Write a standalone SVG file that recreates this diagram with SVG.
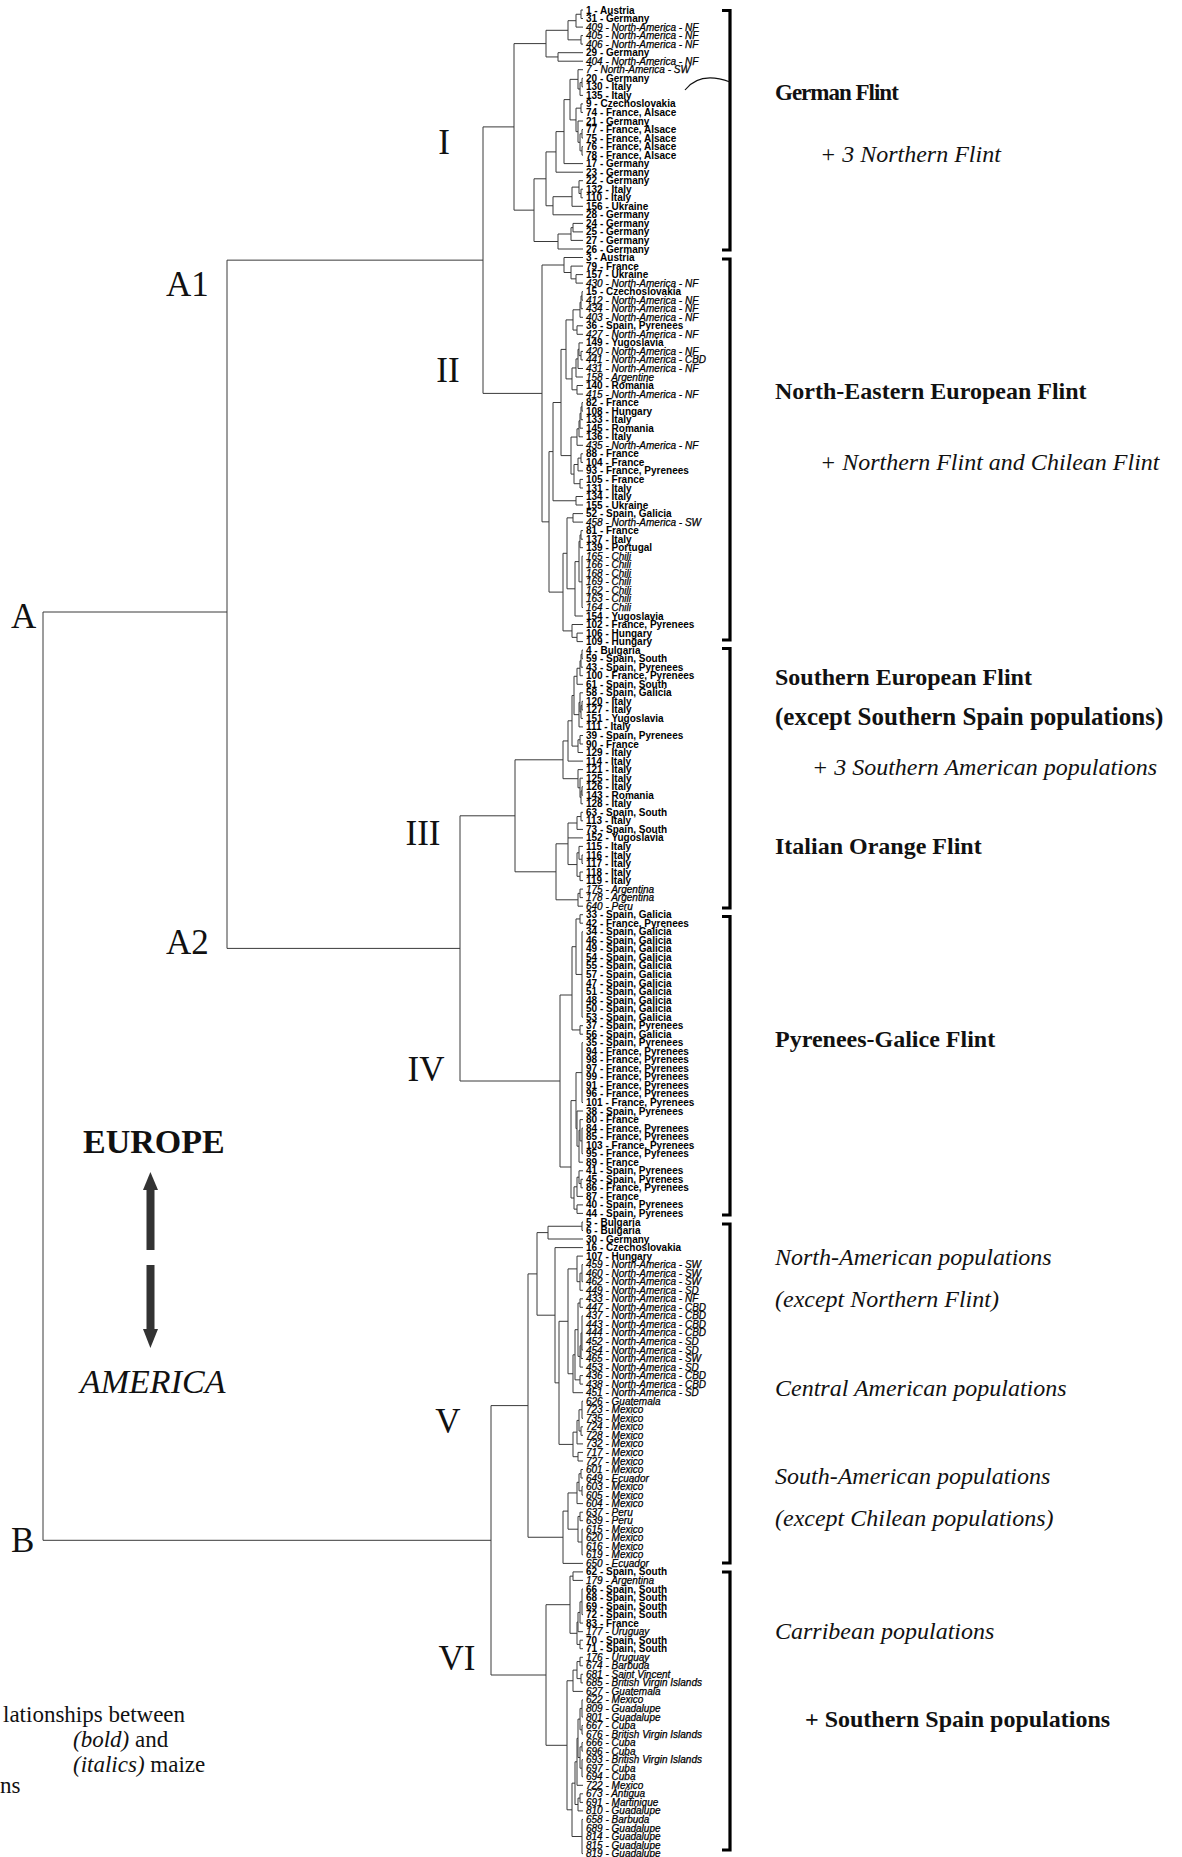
<svg xmlns="http://www.w3.org/2000/svg" width="1182" height="1857" viewBox="0 0 1182 1857">
<style>
.t{fill:none;stroke:#3a3a3a;stroke-width:1}
.lb{font-family:"Liberation Sans",Arial,sans-serif;font-weight:bold;font-size:10px;fill:#000}
.li{font-family:"Liberation Sans",Arial,sans-serif;font-style:italic;font-size:10px;fill:#000;stroke:#000;stroke-width:0.25}
.big{font-family:"Liberation Serif","Times New Roman",serif;font-size:35px;fill:#111}
.rb{font-family:"Liberation Serif","Times New Roman",serif;font-weight:bold;font-size:24px;fill:#111}
.ri{font-family:"Liberation Serif","Times New Roman",serif;font-style:italic;font-size:24px;fill:#111}
.cap{font-family:"Liberation Serif","Times New Roman",serif;font-size:23px;fill:#111}
.br{fill:none;stroke:#000;stroke-width:3.2}
</style>
<rect width="1182" height="1857" fill="#fff"/>
<g id="connectors">
<g id="tree" class="t">
<path d="M583 10 H581 V18.5 H583 M581 14.25 H576 V27.1 H583 M583 35.6 H581 V44.1 H583 M576 20.7 H568 V39.85 H581 M583 52.7 H558 V61.2 H583 M568 30.3 H546 V56.95 H558"/>
<path d="M583 78.3 H582 V86.8 H583 M582 82.55 H580 V95.4 H583 M583 69.7 H578 V89 H580 M583 103.9 H581 V112.4 H583 M583 129.5 H582 V138 H583 M583 146.6 H582 V155.1 H583 M582 133.75 H580 V150.85 H582 M583 121 H578 V142.3 H580 M581 108.15 H576 V131.65 H578 M578 79.35 H570 V119.9 H576 M570 99.6 H564 V163.6 H583 M564 131.6 H556 V172.2 H583"/>
<path d="M583 189.2 H581 V197.8 H583 M583 180.7 H579 V193.5 H581 M579 187.1 H572 V206.3 H583 M572 196.7 H553 V214.8 H583 M583 223.4 H573 V231.9 H583 M573 227.65 H571 V240.4 H583 M571 234 H558 V249 H583 M556 151.9 H546 V205.75 H553 M546 178.8 H534 V241.5 H558 M546 43.6 H514 V210.15 H534"/>
<path d="M583 274.6 H576 V283.1 H583 M583 266.1 H571 V278.85 H576 M583 257.5 H564 V272.5 H571 M583 291.7 H582 V300.2 H583 M582 295.95 H581 V308.7 H583 M581 302.3 H580 V317.3 H583 M583 325.8 H577 V334.3 H583 M580 309.8 H573 V330.05 H577 M583 351.4 H581 V359.9 H583 M583 342.9 H579 V355.65 H581 M579 349.3 H578 V368.5 H583 M578 358.9 H576 V377 H583 M583 385.5 H577 V394.1 H583 M576 367.95 H572 V389.8 H577 M573 319.9 H566 V378.9 H572"/>
<path d="M583 402.6 H582 V411.1 H583 M582 406.85 H581 V419.7 H583 M581 413.3 H580 V428.2 H583 M580 420.75 H579 V436.8 H583 M579 428.8 H577 V445.3 H583 M583 453.8 H581 V462.4 H583 M581 458.1 H578 V470.9 H583 M583 479.4 H580 V488 H583 M578 464.5 H574 V483.7 H580 M577 437.05 H571 V474.1 H574 M566 349.4 H561 V455.6 H571 M583 496.5 H576 V505 H583 M561 402.5 H553 V500.75 H576"/>
<path d="M583 513.6 H573 V522.1 H583 M583 530.6 H581 V539.2 H583 M581 534.9 H580 V547.7 H583 M583 556.2 H582 V607.5 H583 M580 541.3 H579 V581.85 H582 M579 561.6 H575 V616 H583 M573 517.85 H567 V588.8 H575 M583 633.1 H577 V641.6 H583 M583 624.5 H572 V637.35 H577 M567 553.3 H563 V630.9 H572 M553 451.6 H549 V592.1 H563 M564 265 H542 V521.85 H549 M514 126.9 H483 V393.4 H542"/>
<path d="M583 650.1 H582 V658.7 H583 M582 654.4 H581 V667.2 H583 M581 660.8 H580 V675.7 H583 M580 668.25 H577 V684.3 H583 M583 701.3 H582 V709.9 H583 M582 705.6 H581 V718.4 H583 M583 692.8 H580 V712 H581 M580 702.4 H579 V726.9 H583 M583 735.5 H580 V744 H583 M580 739.75 H578 V752.5 H583 M577 676.3 H574 V714.65 H579 M574 695.5 H572 V746.1 H578 M572 720.8 H568 V761.1 H583 M583 786.7 H582 V795.2 H583 M582 790.95 H581 V803.8 H583 M583 778.2 H580 V797.4 H581 M583 769.6 H578 V787.8 H580 M568 740.95 H563 V778.7 H578"/>
<path d="M583 812.3 H581 V820.8 H583 M581 816.55 H577 V829.4 H583 M583 855 H582 V863.5 H583 M583 846.4 H579 V859.25 H582 M583 872 H580 V880.6 H583 M579 852.8 H577 V876.3 H580 M577 823 H568 V864.55 H577 M568 837.9 H583 M583 889.1 H580 V897.6 H583 M580 893.35 H578 V906.2 H583 M568 843.8 H556 V899.8 H578 M563 759.8 H515 V871.8 H556"/>
<path d="M583 914.7 H580 V923.2 H583 M583 931.8 H582 V1017.1 H583 M580 918.95 H576 V974.45 H582 M583 1025.7 H580 V1034.2 H583 M576 946.7 H572 V1029.95 H580 M583 1042.7 H582 V1102.5 H583 M583 1128.1 H582 V1153.7 H583 M583 1119.6 H580 V1140.9 H582 M580 1130.25 H579 V1162.2 H583 M583 1111 H577 V1146.2 H579 M582 1072.6 H576 V1128.6 H577 M583 1179.3 H581 V1187.8 H583 M583 1170.8 H579 V1183.55 H581 M579 1177.2 H577 V1196.4 H583 M583 1204.9 H577 V1213.4 H583 M577 1186.8 H574 V1209.15 H577 M576 1100.6 H571 V1198 H574 M572 995 H560 V1167 H571 M515 815.8 H460 V1081 H560"/>
<path d="M483 260.15 H227 V948.4 H460 M227 612 H43 V1540.3 H491"/>
<path d="M583 1222 H582 V1230.5 H583 M582 1226.25 H548 V1239 H583 M583 1264.6 H582 V1281.7 H583 M582 1273.15 H580 V1290.3 H583 M583 1256.1 H577 V1281.7 H580 M583 1298.8 H580 V1307.3 H583 M583 1315.9 H582 V1350 H583 M582 1332.95 H581 V1358.5 H583 M581 1345.7 H580 V1367.1 H583 M580 1303.05 H578 V1356.4 H580 M583 1375.6 H580 V1384.1 H583 M578 1329.7 H575 V1379.85 H580 M575 1354.8 H573 V1392.7 H583 M577 1268.9 H568 V1373.75 H573"/>
<path d="M583 1401.2 H582 V1418.3 H583 M583 1426.8 H581 V1435.3 H583 M582 1409.75 H579 V1431.05 H581 M579 1420.4 H577 V1443.9 H583 M583 1452.4 H578 V1461 H583 M577 1432.15 H573 V1456.7 H578 M568 1321.3 H559 V1444.4 H573 M583 1247.6 H555 V1382.85 H559 M548 1232.6 H537 V1315.2 H555"/>
<path d="M583 1469.5 H581 V1478 H583 M583 1486.6 H582 V1495.1 H583 M581 1473.75 H579 V1490.85 H582 M579 1482.3 H577 V1503.6 H583 M583 1512.2 H580 V1520.7 H583 M583 1529.2 H582 V1554.8 H583 M580 1516.45 H578 V1542 H582 M577 1492.95 H568 V1529.2 H578 M568 1511.1 H563 V1563.4 H583 M537 1273.9 H528 V1537.25 H563"/>
<path d="M583 1571.9 H573 V1580.4 H583 M583 1589 H582 V1614.6 H583 M582 1601.8 H580 V1623.1 H583 M580 1612.45 H578 V1631.7 H583 M583 1640.2 H580 V1648.7 H583 M578 1622.1 H577 V1644.45 H580 M573 1576.15 H570 V1633.3 H577"/>
<path d="M583 1657.3 H580 V1665.8 H583 M583 1674.3 H581 V1682.9 H583 M580 1661.55 H577 V1678.6 H581 M577 1670.1 H573 V1691.4 H583 M583 1699.9 H582 V1717 H583 M583 1725.5 H582 V1734.1 H583 M582 1708.45 H580 V1729.8 H582 M583 1742.6 H582 V1751.1 H583 M583 1759.7 H582 V1776.7 H583 M582 1746.85 H580 V1768.2 H582 M580 1719.1 H578 V1757.5 H580 M578 1738.3 H577 V1785.3 H583 M583 1793.8 H580 V1802.4 H583 M580 1798.1 H578 V1810.9 H583 M577 1761.8 H575 V1804.5 H578 M583 1819.4 H582 V1853.6 H583 M575 1783.15 H572 V1836.5 H582 M573 1680.75 H567 V1809.8 H572 M570 1604.7 H546 V1745.3 H567 M528 1405.6 H491 V1675 H546"/>
</g>
<g id="brackets" class="br">
<path d="M722 10.5 H730 V250 H722"/>
<path d="M722 259 H730 V640 H722"/>
<path d="M722 648.5 H730 V908 H722"/>
<path d="M722 916.5 H730 V1215 H722"/>
<path d="M722 1224 H730 V1563 H722"/>
<path d="M722 1572 H730 V1850 H722"/>
</g>
<path id="arc" d="M685 90 Q700 71 730 82" fill="none" stroke="#111" stroke-width="1.2"/>
</g>
<g id="arrow" fill="#333">
<polygon points="150.4,1172 158,1190 143,1190"/>
<rect x="146.5" y="1189" width="8" height="61"/>
<rect x="146.5" y="1265" width="8" height="65"/>
<polygon points="150.4,1348 158,1329 143,1329"/>
</g>
<g id="leaves-I">
<text class="lb" x="586" y="13.5">1 - Austria</text>
<text class="lb" x="586" y="22">31 - Germany</text>
<text class="li" x="586" y="30.6">409 - North-America - NF</text>
<text class="li" x="586" y="39.1">405 - North-America - NF</text>
<text class="li" x="586" y="47.6">406 - North-America - NF</text>
<text class="lb" x="586" y="56.2">29 - Germany</text>
<text class="li" x="586" y="64.7">404 - North-America - NF</text>
<text class="li" x="586" y="73.2">7 - North-America - SW</text>
<text class="lb" x="586" y="81.8">20 - Germany</text>
<text class="lb" x="586" y="90.3">130 - Italy</text>
<text class="lb" x="586" y="98.9">135 - Italy</text>
<text class="lb" x="586" y="107.4">9 - Czechoslovakia</text>
<text class="lb" x="586" y="115.9">74 - France, Alsace</text>
<text class="lb" x="586" y="124.5">21 - Germany</text>
<text class="lb" x="586" y="133">77 - France, Alsace</text>
<text class="lb" x="586" y="141.5">75 - France, Alsace</text>
<text class="lb" x="586" y="150.1">76 - France, Alsace</text>
<text class="lb" x="586" y="158.6">78 - France, Alsace</text>
<text class="lb" x="586" y="167.1">17 - Germany</text>
<text class="lb" x="586" y="175.7">23 - Germany</text>
<text class="lb" x="586" y="184.2">22 - Germany</text>
<text class="lb" x="586" y="192.7">132 - Italy</text>
<text class="lb" x="586" y="201.3">110 - Italy</text>
<text class="lb" x="586" y="209.8">156 - Ukraine</text>
<text class="lb" x="586" y="218.3">28 - Germany</text>
<text class="lb" x="586" y="226.9">24 - Germany</text>
<text class="lb" x="586" y="235.4">25 - Germany</text>
<text class="lb" x="586" y="243.9">27 - Germany</text>
<text class="lb" x="586" y="252.5">26 - Germany</text>
</g>
<g id="leaves-II">
<text class="lb" x="586" y="261">3 - Austria</text>
<text class="lb" x="586" y="269.6">79 - France</text>
<text class="lb" x="586" y="278.1">157 - Ukraine</text>
<text class="li" x="586" y="286.6">430 - North-America - NF</text>
<text class="lb" x="586" y="295.2">15 - Czechoslovakia</text>
<text class="li" x="586" y="303.7">412 - North-America - NF</text>
<text class="li" x="586" y="312.2">434 - North-America - NF</text>
<text class="li" x="586" y="320.8">403 - North-America - NF</text>
<text class="lb" x="586" y="329.3">36 - Spain, Pyrenees</text>
<text class="li" x="586" y="337.8">427 - North-America - NF</text>
<text class="lb" x="586" y="346.4">149 - Yugoslavia</text>
<text class="li" x="586" y="354.9">420 - North-America - NF</text>
<text class="li" x="586" y="363.4">441 - North-America - CBD</text>
<text class="li" x="586" y="372">431 - North-America - NF</text>
<text class="li" x="586" y="380.5">158 - Argentine</text>
<text class="lb" x="586" y="389">140 - Romania</text>
<text class="li" x="586" y="397.6">415 - North-America - NF</text>
<text class="lb" x="586" y="406.1">82 - France</text>
<text class="lb" x="586" y="414.6">108 - Hungary</text>
<text class="lb" x="586" y="423.2">133 - Italy</text>
<text class="lb" x="586" y="431.7">145 - Romania</text>
<text class="lb" x="586" y="440.3">136 - Italy</text>
<text class="li" x="586" y="448.8">435 - North-America - NF</text>
<text class="lb" x="586" y="457.3">88 - France</text>
<text class="lb" x="586" y="465.9">104 - France</text>
<text class="lb" x="586" y="474.4">93 - France, Pyrenees</text>
<text class="lb" x="586" y="482.9">105 - France</text>
<text class="lb" x="586" y="491.5">131 - Italy</text>
<text class="lb" x="586" y="500">134 - Italy</text>
<text class="lb" x="586" y="508.5">155 - Ukraine</text>
<text class="lb" x="586" y="517.1">52 - Spain, Galicia</text>
<text class="li" x="586" y="525.6">458 - North-America - SW</text>
<text class="lb" x="586" y="534.1">81 - France</text>
<text class="lb" x="586" y="542.7">137 - Italy</text>
<text class="lb" x="586" y="551.2">139 - Portugal</text>
<text class="li" x="586" y="559.7">165 - Chili</text>
<text class="li" x="586" y="568.3">166 - Chili</text>
<text class="li" x="586" y="576.8">168 - Chili</text>
<text class="li" x="586" y="585.3">169 - Chili</text>
<text class="li" x="586" y="593.9">162 - Chili</text>
<text class="li" x="586" y="602.4">163 - Chili</text>
<text class="li" x="586" y="611">164 - Chili</text>
<text class="lb" x="586" y="619.5">154 - Yugoslavia</text>
<text class="lb" x="586" y="628">102 - France, Pyrenees</text>
<text class="lb" x="586" y="636.6">106 - Hungary</text>
<text class="lb" x="586" y="645.1">109 - Hungary</text>
</g>
<g id="leaves-III">
<text class="lb" x="586" y="653.6">4 - Bulgaria</text>
<text class="lb" x="586" y="662.2">59 - Spain, South</text>
<text class="lb" x="586" y="670.7">43 - Spain, Pyrenees</text>
<text class="lb" x="586" y="679.2">100 - France, Pyrenees</text>
<text class="lb" x="586" y="687.8">61 - Spain, South</text>
<text class="lb" x="586" y="696.3">58 - Spain, Galicia</text>
<text class="lb" x="586" y="704.8">120 - Italy</text>
<text class="lb" x="586" y="713.4">127 - Italy</text>
<text class="lb" x="586" y="721.9">151 - Yugoslavia</text>
<text class="lb" x="586" y="730.4">111 - Italy</text>
<text class="lb" x="586" y="739">39 - Spain, Pyrenees</text>
<text class="lb" x="586" y="747.5">90 - France</text>
<text class="lb" x="586" y="756">129 - Italy</text>
<text class="lb" x="586" y="764.6">114 - Italy</text>
<text class="lb" x="586" y="773.1">121 - Italy</text>
<text class="lb" x="586" y="781.7">125 - Italy</text>
<text class="lb" x="586" y="790.2">126 - Italy</text>
<text class="lb" x="586" y="798.7">143 - Romania</text>
<text class="lb" x="586" y="807.3">128 - Italy</text>
<text class="lb" x="586" y="815.8">63 - Spain, South</text>
<text class="lb" x="586" y="824.3">113 - Italy</text>
<text class="lb" x="586" y="832.9">73 - Spain, South</text>
<text class="lb" x="586" y="841.4">152 - Yugoslavia</text>
<text class="lb" x="586" y="849.9">115 - Italy</text>
<text class="lb" x="586" y="858.5">116 - Italy</text>
<text class="lb" x="586" y="867">117 - Italy</text>
<text class="lb" x="586" y="875.5">118 - Italy</text>
<text class="lb" x="586" y="884.1">119 - Italy</text>
<text class="li" x="586" y="892.6">175 - Argentina</text>
<text class="li" x="586" y="901.1">178 - Argentina</text>
<text class="li" x="586" y="909.7">640 - Peru</text>
</g>
<g id="leaves-IV">
<text class="lb" x="586" y="918.2">33 - Spain, Galicia</text>
<text class="lb" x="586" y="926.7">42 - France, Pyrenees</text>
<text class="lb" x="586" y="935.3">34 - Spain, Galicia</text>
<text class="lb" x="586" y="943.8">46 - Spain, Galicia</text>
<text class="lb" x="586" y="952.4">49 - Spain, Galicia</text>
<text class="lb" x="586" y="960.9">54 - Spain, Galicia</text>
<text class="lb" x="586" y="969.4">55 - Spain, Galicia</text>
<text class="lb" x="586" y="978">57 - Spain, Galicia</text>
<text class="lb" x="586" y="986.5">47 - Spain, Galicia</text>
<text class="lb" x="586" y="995">51 - Spain, Galicia</text>
<text class="lb" x="586" y="1003.6">48 - Spain, Galicia</text>
<text class="lb" x="586" y="1012.1">50 - Spain, Galicia</text>
<text class="lb" x="586" y="1020.6">53 - Spain, Galicia</text>
<text class="lb" x="586" y="1029.2">37 - Spain, Pyrenees</text>
<text class="lb" x="586" y="1037.7">56 - Spain, Galicia</text>
<text class="lb" x="586" y="1046.2">35 - Spain, Pyrenees</text>
<text class="lb" x="586" y="1054.8">94 - France, Pyrenees</text>
<text class="lb" x="586" y="1063.3">98 - France, Pyrenees</text>
<text class="lb" x="586" y="1071.8">97 - France, Pyrenees</text>
<text class="lb" x="586" y="1080.4">99 - France, Pyrenees</text>
<text class="lb" x="586" y="1088.9">91 - France, Pyrenees</text>
<text class="lb" x="586" y="1097.4">96 - France, Pyrenees</text>
<text class="lb" x="586" y="1106">101 - France, Pyrenees</text>
<text class="lb" x="586" y="1114.5">38 - Spain, Pyrenees</text>
<text class="lb" x="586" y="1123.1">80 - France</text>
<text class="lb" x="586" y="1131.6">84 - France, Pyrenees</text>
<text class="lb" x="586" y="1140.1">85 - France, Pyrenees</text>
<text class="lb" x="586" y="1148.7">103 - France, Pyrenees</text>
<text class="lb" x="586" y="1157.2">95 - France, Pyrenees</text>
<text class="lb" x="586" y="1165.7">89 - France</text>
<text class="lb" x="586" y="1174.3">41 - Spain, Pyrenees</text>
<text class="lb" x="586" y="1182.8">45 - Spain, Pyrenees</text>
<text class="lb" x="586" y="1191.3">86 - France, Pyrenees</text>
<text class="lb" x="586" y="1199.9">87 - France</text>
<text class="lb" x="586" y="1208.4">40 - Spain, Pyrenees</text>
<text class="lb" x="586" y="1216.9">44 - Spain, Pyrenees</text>
</g>
<g id="leaves-V">
<text class="lb" x="586" y="1225.5">5 - Bulgaria</text>
<text class="lb" x="586" y="1234">6 - Bulgaria</text>
<text class="lb" x="586" y="1242.5">30 - Germany</text>
<text class="lb" x="586" y="1251.1">16 - Czechoslovakia</text>
<text class="lb" x="586" y="1259.6">107 - Hungary</text>
<text class="li" x="586" y="1268.1">459 - North-America - SW</text>
<text class="li" x="586" y="1276.7">460 - North-America - SW</text>
<text class="li" x="586" y="1285.2">462 - North-America - SW</text>
<text class="li" x="586" y="1293.8">449 - North-America - SD</text>
<text class="li" x="586" y="1302.3">433 - North-America - NF</text>
<text class="li" x="586" y="1310.8">447 - North-America - CBD</text>
<text class="li" x="586" y="1319.4">437 - North-America - CBD</text>
<text class="li" x="586" y="1327.9">443 - North-America - CBD</text>
<text class="li" x="586" y="1336.4">444 - North-America - CBD</text>
<text class="li" x="586" y="1345">452 - North-America - SD</text>
<text class="li" x="586" y="1353.5">454 - North-America - SD</text>
<text class="li" x="586" y="1362">465 - North-America - SW</text>
<text class="li" x="586" y="1370.6">453 - North-America - SD</text>
<text class="li" x="586" y="1379.1">436 - North-America - CBD</text>
<text class="li" x="586" y="1387.6">438 - North-America - CBD</text>
<text class="li" x="586" y="1396.2">451 - North-America - SD</text>
<text class="li" x="586" y="1404.7">626 - Guatemala</text>
<text class="li" x="586" y="1413.2">723 - Mexico</text>
<text class="li" x="586" y="1421.8">735 - Mexico</text>
<text class="li" x="586" y="1430.3">724 - Mexico</text>
<text class="li" x="586" y="1438.8">728 - Mexico</text>
<text class="li" x="586" y="1447.4">732 - Mexico</text>
<text class="li" x="586" y="1455.9">717 - Mexico</text>
<text class="li" x="586" y="1464.5">727 - Mexico</text>
<text class="li" x="586" y="1473">601 - Mexico</text>
<text class="li" x="586" y="1481.5">649 - Ecuador</text>
<text class="li" x="586" y="1490.1">603 - Mexico</text>
<text class="li" x="586" y="1498.6">605 - Mexico</text>
<text class="li" x="586" y="1507.1">604 - Mexico</text>
<text class="li" x="586" y="1515.7">637 - Peru</text>
<text class="li" x="586" y="1524.2">639 - Peru</text>
<text class="li" x="586" y="1532.7">615 - Mexico</text>
<text class="li" x="586" y="1541.3">620 - Mexico</text>
<text class="li" x="586" y="1549.8">616 - Mexico</text>
<text class="li" x="586" y="1558.3">619 - Mexico</text>
<text class="li" x="586" y="1566.9">650 - Ecuador</text>
</g>
<g id="leaves-VI">
<text class="lb" x="586" y="1575.4">62 - Spain, South</text>
<text class="li" x="586" y="1583.9">179 - Argentina</text>
<text class="lb" x="586" y="1592.5">66 - Spain, South</text>
<text class="lb" x="586" y="1601">68 - Spain, South</text>
<text class="lb" x="586" y="1609.5">69 - Spain, South</text>
<text class="lb" x="586" y="1618.1">72 - Spain, South</text>
<text class="lb" x="586" y="1626.6">83 - France</text>
<text class="li" x="586" y="1635.2">177 - Uruguay</text>
<text class="lb" x="586" y="1643.7">70 - Spain, South</text>
<text class="lb" x="586" y="1652.2">71 - Spain, South</text>
<text class="li" x="586" y="1660.8">176 - Uruguay</text>
<text class="li" x="586" y="1669.3">674 - Barbuda</text>
<text class="li" x="586" y="1677.8">681 - Saint Vincent</text>
<text class="li" x="586" y="1686.4">685 - British Virgin Islands</text>
<text class="li" x="586" y="1694.9">627 - Guatemala</text>
<text class="li" x="586" y="1703.4">622 - Mexico</text>
<text class="li" x="586" y="1712">809 - Guadalupe</text>
<text class="li" x="586" y="1720.5">801 - Guadalupe</text>
<text class="li" x="586" y="1729">667 - Cuba</text>
<text class="li" x="586" y="1737.6">676 - British Virgin Islands</text>
<text class="li" x="586" y="1746.1">666 - Cuba</text>
<text class="li" x="586" y="1754.6">696 - Cuba</text>
<text class="li" x="586" y="1763.2">693 - British Virgin Islands</text>
<text class="li" x="586" y="1771.7">697 - Cuba</text>
<text class="li" x="586" y="1780.2">694 - Cuba</text>
<text class="li" x="586" y="1788.8">722 - Mexico</text>
<text class="li" x="586" y="1797.3">673 - Antigua</text>
<text class="li" x="586" y="1805.9">691 - Martinique</text>
<text class="li" x="586" y="1814.4">810 - Guadalupe</text>
<text class="li" x="586" y="1822.9">658 - Barbuda</text>
<text class="li" x="586" y="1831.5">689 - Guadalupe</text>
<text class="li" x="586" y="1840">814 - Guadalupe</text>
<text class="li" x="586" y="1848.5">815 - Guadalupe</text>
<text class="li" x="586" y="1856.5">819 - Guadalupe</text>
</g>
<g id="cluster-labels" class="big">
<text x="11" y="628">A</text>
<text x="11" y="1552">B</text>
<text x="166" y="296">A1</text>
<text x="166" y="954">A2</text>
<text x="444" y="154" text-anchor="middle">I</text>
<text x="448" y="382" text-anchor="middle">II</text>
<text x="423" y="845" text-anchor="middle">III</text>
<text x="426" y="1081" text-anchor="middle">IV</text>
<text x="448" y="1433" text-anchor="middle">V</text>
<text x="457" y="1670" text-anchor="middle">VI</text>
</g>
<g id="continents">
<text x="83" y="1153" font-family="Liberation Serif, serif" font-weight="bold" font-size="34" fill="#111">EUROPE</text>
<text x="80" y="1393" font-family="Liberation Serif, serif" font-style="italic" font-size="34" fill="#111">AMERICA</text>
</g>
<g id="group-labels">
<text class="rb" x="775" y="100" style="font-size:23px;letter-spacing:-1px">German Flint</text>
<text class="ri" x="820" y="162">+ 3 Northern Flint</text>
<text class="rb" x="775" y="399">North-Eastern European Flint</text>
<text class="ri" x="820" y="470">+ Northern Flint and Chilean Flint</text>
<text class="rb" x="775" y="685">Southern European Flint</text>
<text class="rb" x="775" y="725" style="font-size:25px">(except Southern Spain populations)</text>
<text class="ri" x="812" y="775">+ 3 Southern American populations</text>
<text class="rb" x="775" y="854">Italian Orange Flint</text>
<text class="rb" x="775" y="1047">Pyrenees-Galice Flint</text>
<text class="ri" x="775" y="1265">North-American populations</text>
<text class="ri" x="775" y="1307">(except Northern Flint)</text>
<text class="ri" x="775" y="1396">Central American populations</text>
<text class="ri" x="775" y="1484">South-American populations</text>
<text class="ri" x="775" y="1526">(except Chilean populations)</text>
<text class="ri" x="775" y="1639">Carribean populations</text>
<text class="rb" x="805" y="1727">+ Southern Spain populations</text>
</g>
<g id="caption" class="cap">
<text x="3" y="1722">lationships between</text>
<text x="73" y="1747"><tspan font-style="italic">(bold)</tspan> and</text>
<text x="73" y="1772"><tspan font-style="italic">(italics)</tspan> maize</text>
<text x="0" y="1793">ns</text>
</g>
</svg>
